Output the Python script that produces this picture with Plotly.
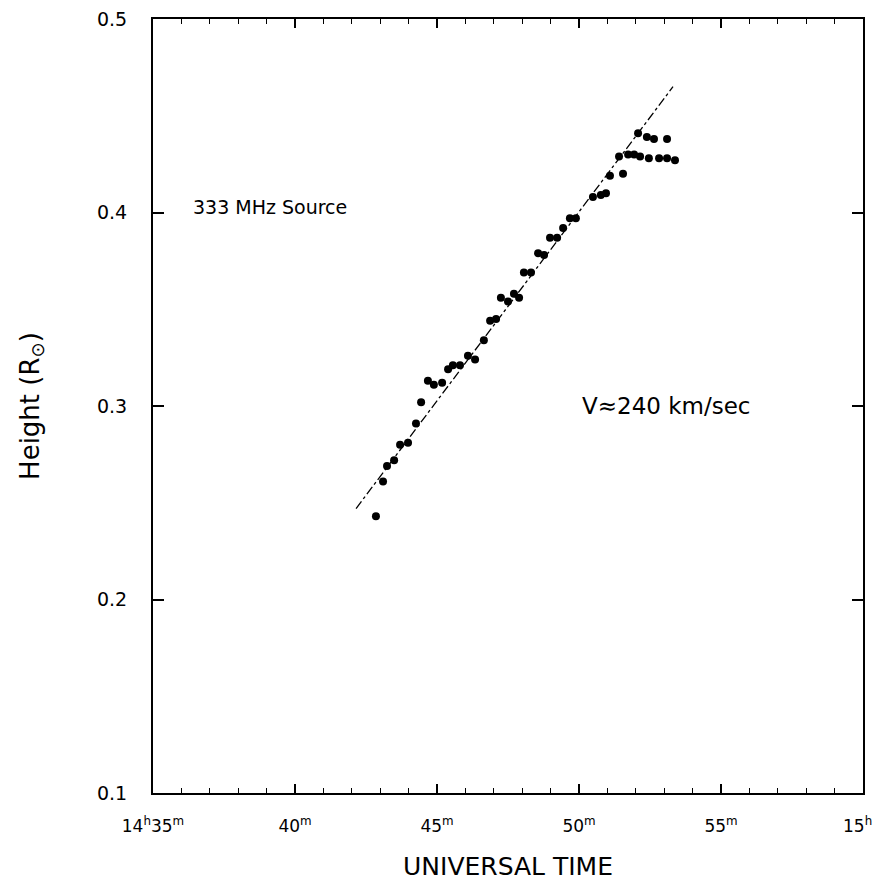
import plotly.graph_objects as go

# Observed 333 MHz source heights: time in minutes after 14h UT, height in solar radii
time_min = [42.85, 43.10, 43.24, 43.49, 43.70, 43.98, 44.26, 44.44, 44.68, 44.89,
            45.18, 45.39, 45.56, 45.81, 46.09, 46.34, 46.65, 46.87, 47.08, 47.25,
            47.50, 47.71, 47.89, 48.06, 48.31, 48.56, 48.77, 48.98, 49.23, 49.44,
            49.68, 49.89, 50.49, 50.77, 50.95, 51.09, 51.55,
            51.41, 51.73, 51.94, 52.15, 52.46, 52.82, 53.10, 53.38,
            52.08, 52.39, 52.64, 53.10]
height = [0.243, 0.261, 0.269, 0.272, 0.280, 0.281, 0.291, 0.302, 0.313, 0.311,
          0.312, 0.319, 0.321, 0.321, 0.326, 0.324, 0.334, 0.344, 0.345, 0.356,
          0.354, 0.358, 0.356, 0.369, 0.369, 0.379, 0.378, 0.387, 0.387, 0.392,
          0.397, 0.397, 0.408, 0.409, 0.410, 0.419, 0.420,
          0.429, 0.430, 0.430, 0.429, 0.428, 0.428, 0.428, 0.427,
          0.441, 0.439, 0.438, 0.438]

# Velocity fit line (V ~ 240 km/sec)
fit_time = [42.15, 53.31]
fit_height = [0.247, 0.465]

x_tick_vals = [35, 40, 45, 50, 55, 60]
x_tick_text = ["14<sup>h</sup>35<sup>m</sup>", "40<sup>m</sup>", "45<sup>m</sup>",
               "50<sup>m</sup>", "55<sup>m</sup>", "15<sup>h</sup>\u00a0\u00a0"]
y_tick_vals = [0.1, 0.2, 0.3, 0.4, 0.5]
y_tick_text = ["0.1", "0.2", "0.3", "0.4", "0.5"]

FONT = "DejaVu Sans"

fig = go.Figure()
fig.add_trace(go.Scatter(x=fit_time, y=fit_height, mode="lines",
                         line=dict(color="black", width=1.3, dash="dashdot"),
                         showlegend=False, hoverinfo="skip"))
fig.add_trace(go.Scatter(x=time_min, y=height, mode="markers",
                         marker=dict(color="black", size=8),
                         showlegend=False))

fig.add_annotation(x=36.34, y=0.403, xref="x", yref="y", text="333 MHz Source",
                   showarrow=False, xanchor="left", yanchor="middle",
                   font=dict(family=FONT, size=19, color="black"))
fig.add_annotation(x=50.05, y=0.3, xref="x", yref="y", text="V\u2248240 km/sec",
                   showarrow=False, xanchor="left", yanchor="middle",
                   font=dict(family=FONT, size=23, color="black"))

fig.update_layout(
    width=882, height=890,
    margin=dict(l=145, r=27, t=11, b=105),
    paper_bgcolor="white", plot_bgcolor="white",
    font=dict(family=FONT, size=18, color="black"),
)
fig.update_xaxes(range=[35, 60], showgrid=False, zeroline=False, automargin=False,
                 showline=True, linecolor="black", linewidth=2, mirror="allticks",
                 ticks="inside", ticklen=9, tickwidth=1.5, tickcolor="black",
                 tickvals=x_tick_vals, ticktext=x_tick_text, ticklabelstandoff=17,
                 ticklabeloverflow="allow",
                 tickfont=dict(family=FONT, size=17),
                 minor=dict(dtick=1, ticks="inside", ticklen=5, tickwidth=1.2, tickcolor="black", showgrid=False),
                 title=dict(text="UNIVERSAL TIME", standoff=22,
                            font=dict(family=FONT, size=25)))
fig.update_yaxes(range=[0.1, 0.5], showgrid=False, zeroline=False, automargin=False,
                 showline=True, linecolor="black", linewidth=2, mirror="allticks",
                 ticks="inside", ticklen=11, tickwidth=1.5, tickcolor="black",
                 tickvals=y_tick_vals, ticktext=y_tick_text, ticklabelstandoff=20,
                 ticklabeloverflow="allow",
                 tickfont=dict(family=FONT, size=19),
                 title=dict(text="Height (R<sub>\u2299</sub>)", standoff=50,
                            font=dict(family=FONT, size=26)))

fig.write_html("out.html")
